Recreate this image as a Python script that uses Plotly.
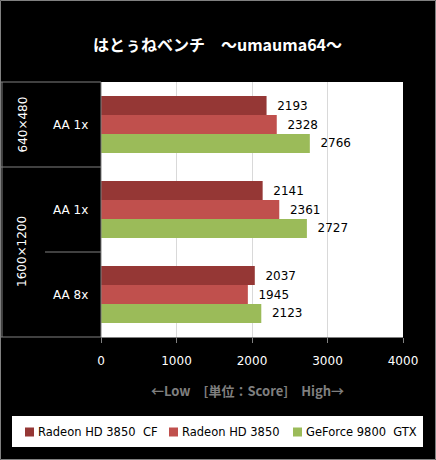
import plotly.graph_objects as go

# ---- data ----
group_res = ["640×480", "1600×1200", "1600×1200"]
aa_labels = ["AA 1x", "AA 1x", "AA 8x"]
series_names = ["Radeon HD 3850  CF", "Radeon HD 3850", "GeForce 9800  GTX"]
series_colors = ["#953735", "#C0504D", "#9BBB59"]
cf_scores = [2193, 2141, 2037]
hd_scores = [2328, 2361, 1945]
gtx_scores = [2766, 2727, 2123]
x_ticks = [0, 1000, 2000, 3000, 4000]
title_text = "はとぅねベンチ　～umauma64～"
axis_title = "←Low　[単位：Score]　High→"

values = [cf_scores, hd_scores, gtx_scores]
positions = list(range(len(aa_labels)))

W, H = 436, 460
L, R, T, B = 101, 33, 82, 123
PW, PH = W - L - R, H - T - B
GRAY = "#808080"
FONT = "DejaVu Sans, Noto Sans CJK JP, sans-serif"


def px(x):
    return (x - L) / PW


def py(y):
    return (T + PH - y) / PH


fig = go.Figure()
for name, col, vals in zip(series_names, series_colors, values):
    fig.add_trace(go.Bar(
        y=positions, x=vals, orientation="h", name=name,
        marker=dict(color=col, line=dict(width=0)),
        texttemplate="\u00a0\u00a0%{x}", textposition="outside",
        textfont=dict(color="black", size=12, family=FONT),
        cliponaxis=False, constraintext="none", showlegend=False,
    ))

shapes = []
annotations = []

# outer border
shapes.append(dict(type="rect", xref="paper", yref="paper",
                   x0=px(0.5), x1=px(W - 0.5), y0=py(H - 0.5), y1=py(0.5),
                   line=dict(color=GRAY, width=1), layer="above"))
# category box
ytop, ybot = py(T), py(T + PH)
shapes.append(dict(type="line", xref="paper", yref="paper", x0=px(2), x1=px(2),
                   y0=ybot, y1=ytop, line=dict(color=GRAY, width=1)))
shapes.append(dict(type="line", xref="paper", yref="paper", x0=0, x1=0,
                   y0=ybot, y1=ytop, line=dict(color=GRAY, width=1)))
shapes.append(dict(type="line", xref="paper", yref="paper", x0=px(0), x1=0,
                   y0=ytop, y1=ytop, line=dict(color=GRAY, width=1)))
shapes.append(dict(type="line", xref="paper", yref="paper", x0=px(0), x1=0,
                   y0=ybot, y1=ybot, line=dict(color=GRAY, width=1)))

# outer-group labels and dividers
uniq = []
for r in group_res:
    if r not in uniq:
        uniq.append(r)
for r in uniq:
    idx = [i for i, g in enumerate(group_res) if g == r]
    annotations.append(dict(xref="paper", yref="y", x=px(22), y=sum(idx) / len(idx),
                            text=r, textangle=-90, showarrow=False,
                            xanchor="center", yanchor="middle",
                            font=dict(color="white", size=12, family=FONT)))
    if idx[-1] < len(group_res) - 1:
        shapes.append(dict(type="line", xref="paper", yref="y", x0=px(0), x1=0,
                           y0=idx[-1] + 0.5, y1=idx[-1] + 0.5,
                           line=dict(color=GRAY, width=1)))
    for a, b in zip(idx[:-1], idx[1:]):
        shapes.append(dict(type="line", xref="paper", yref="y", x0=px(45), x1=0,
                           y0=a + 0.5, y1=a + 0.5, line=dict(color=GRAY, width=1)))

for i, lab in enumerate(aa_labels):
    annotations.append(dict(xref="paper", yref="y", x=px(70), y=i, text=lab,
                            showarrow=False, xanchor="center", yanchor="middle",
                            font=dict(color="white", size=12, family=FONT)))

# title
annotations.append(dict(xref="paper", yref="paper", x=px(217), y=py(44), text=title_text,
                        showarrow=False, xanchor="center", yanchor="middle",
                        font=dict(color="white", size=16, family="Noto Sans CJK JP, sans-serif",
                                  weight="bold")))
# axis title
annotations.append(dict(xref="paper", yref="paper", x=px(247), y=py(390), text=axis_title,
                        showarrow=False, xanchor="center", yanchor="middle",
                        font=dict(color="#7F7F7F", size=13, family="Noto Sans CJK JP, sans-serif",
                                  weight="bold")))

# legend (manual)
shapes.append(dict(type="rect", xref="paper", yref="paper", x0=px(12), x1=px(423),
                   y0=py(447), y1=py(416), fillcolor="white", line=dict(width=0)))
sq_x = [25, 169, 293]
for sx, name, col in zip(sq_x, series_names, series_colors):
    shapes.append(dict(type="rect", xref="paper", yref="paper", x0=px(sx), x1=px(sx + 9),
                       y0=py(436.5), y1=py(427.5), fillcolor=col, line=dict(width=0)))
    annotations.append(dict(xref="paper", yref="paper", x=px(sx + 11), y=py(432),
                            text=name.replace("  ", "\u00a0\u00a0"), showarrow=False,
                            xanchor="left", yanchor="middle",
                            font=dict(color="black", size=11.5, family=FONT)))

fig.update_layout(
    width=W, height=H,
    margin=dict(l=L, r=R, t=T, b=B, pad=0),
    paper_bgcolor="black", plot_bgcolor="white",
    barmode="group", bargap=0.33, bargroupgap=0,
    shapes=shapes, annotations=annotations,
    xaxis=dict(range=[0, 4000], tickvals=x_ticks, showgrid=True, gridcolor="#D9D9D9",
               zeroline=False, showline=True, linecolor=GRAY, ticks="outside",
               ticklen=5, tickcolor=GRAY, ticklabelstandoff=8,
               tickfont=dict(color="white", size=12, family=FONT)),
    yaxis=dict(range=[len(aa_labels) - 0.5, -0.5], showticklabels=False, showgrid=False,
               zeroline=False, showline=False, ticks=""),
)

fig.write_html("out.html")
